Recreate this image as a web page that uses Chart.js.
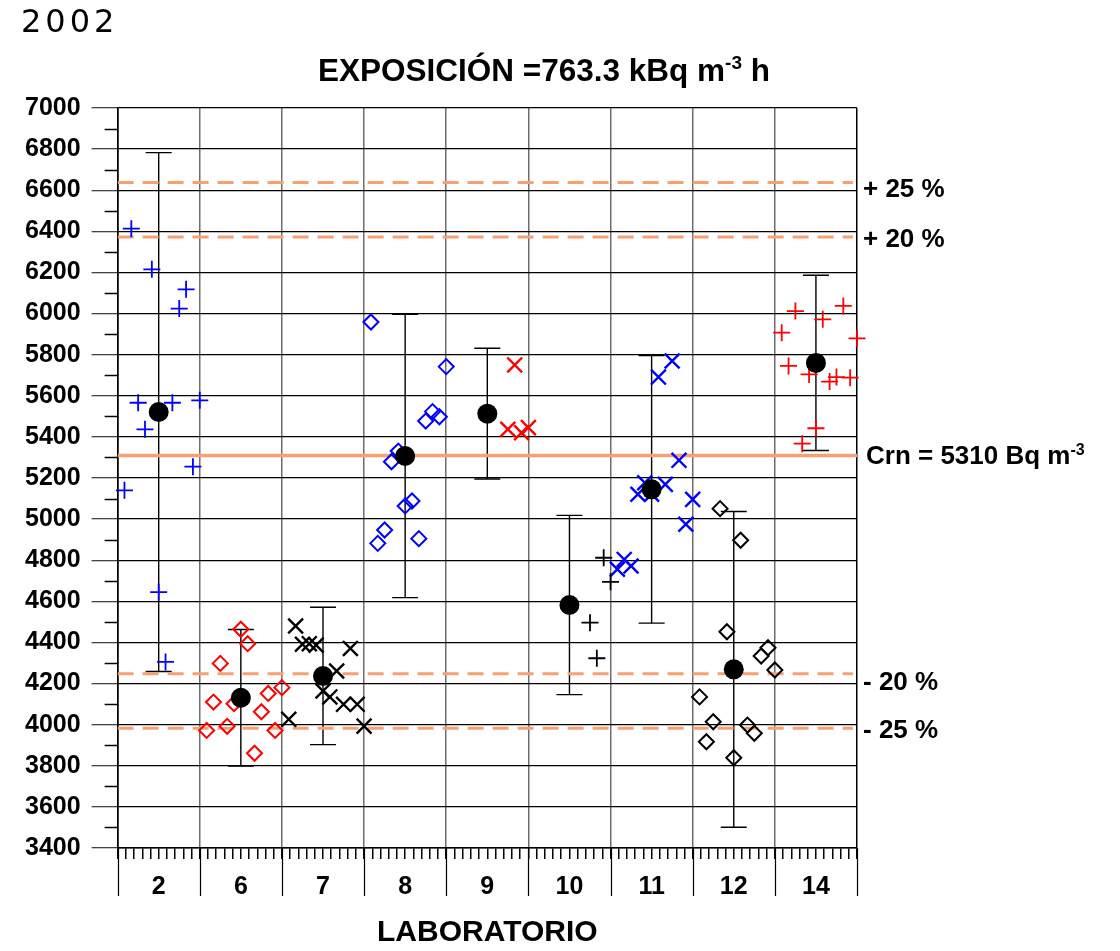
<!DOCTYPE html>
<html lang="es">
<head>
<meta charset="UTF-8">
<title>Exposición 2002</title>
<script src="https://cdn.jsdelivr.net/npm/chart.js"></script>
<style>
  html, body { margin: 0; padding: 0; background: #fff; }
</style>
</head>
<body>
<canvas id="expoChart" width="1120" height="951"></canvas>
<script>
// laboratories, one column each
var labs = ['2', '6', '7', '8', '9', '10', '11', '12', '14'];

// results of each lab, in sample order (sample k sits at lab + k/12)
var lab2  = [5140, 6413, 5566, 5437, 6215, 4645, 4305, 5566, 6024, 6118, 5255, 5578];
var lab6  = [3972, 4110, 4298, 3992, 4102, 4464, 4394, 3861, 4063, 4152, 3972, 4180];
var lab7  = [4026, 4480, 4391, 4394, 4387, 4164, 4135, 4261, 4099, 4371, 4099, 3993];
var lab8  = [5959, 4882, 4947, 5279, 5331, 5064, 5088, 4905, 5477, 5523, 5498, 5742];
var lab9  = [5437, 5750, 5420, 5445];
var lab10 = [4496, 4323, 4812, 4695];
var lab11 = [4756, 4804, 4772, 5121, 5177, 5121, 5691, 5169, 5769, 5286, 4975, 5096];
var lab12 = [4135, 3917, 4014, 5051, 4452, 3839, 4897, 3998, 3958, 4334, 4374, 4266];
var lab14 = [5907, 5745, 6012, 5367, 5704, 5442, 5972, 5669, 5691, 6037, 5688, 5879];
var firstSample = [1, 1, 1, 1, 9, 9, 1, 1, 1];

// lab mean and half length of its error bar
var labMean = [5521, 4131, 4237, 5307, 5513, 4582, 5145, 4269, 5760];
var labErr  = [1262, 332, 334, 689, 318, 436, 651, 768, 426];

// reference concentration and limits (Bq m-3)
var crn = 5310;
var limitPct = [25, 20, -20, -25];
var limitLabels = ['+ 25 %', '+ 20 %', '- 20 %', '- 25 %'];

var labValues = [lab2, lab6, lab7, lab8, lab9, lab10, lab11, lab12, lab14];

// marker look per lab
var BLUE = '#0000ff', RED = '#ff0000', BLACK = '#000000';
var labShape = ['cross', 'rectRot', 'crossRot', 'rectRot', 'crossRot', 'cross', 'crossRot', 'rectRot', 'cross'];
var labColor = [BLUE, RED, BLACK, BLUE, RED, BLACK, BLUE, BLACK, RED];
var shapeRadius = { cross: 8.5, rectRot: 7.5, crossRot: 10.5 };
var shapeWidth = { cross: 1.8, rectRot: 2, crossRot: 2.4 };

// small vertical nudge of each limit label (px)
var labelNudge = [5, 1, 7, 1];

var ORANGE = '#f9a072';
var FONT = '"Liberation Sans", Arial, sans-serif';

var datasets = [];

labValues.forEach(function(vals, i) {
  var shape = labShape[i];
  datasets.push({
    label: 'Laboratorio ' + labs[i],
    data: vals.map(function(v, k) {
      return { x: i + (firstSample[i] + k) / 12, y: v };
    }),
    pointStyle: shape,
    pointRadius: shapeRadius[shape],
    pointBorderWidth: shapeWidth[shape],
    borderColor: labColor[i],
    backgroundColor: 'rgba(0,0,0,0)',
    showLine: false,
    clip: false,
    order: 2
  });
});

// means
datasets.push({
  label: 'Media',
  data: labMean.map(function(m, i) { return { x: i + 0.5, y: m }; }),
  pointStyle: 'circle',
  pointRadius: 10,
  pointBorderWidth: 0,
  backgroundColor: BLACK,
  borderColor: BLACK,
  showLine: false,
  order: 1
});

// reference line and limits
datasets.push({
  label: 'Crn',
  data: [{ x: 0, y: crn }, { x: labs.length, y: crn }],
  showLine: true,
  borderColor: ORANGE,
  borderWidth: 3.5,
  pointRadius: 0,
  order: 5
});
limitPct.forEach(function(p) {
  var v = crn * (1 + p / 100);
  datasets.push({
    label: p + ' %',
    data: [{ x: 0, y: v }, { x: labs.length - 0.05, y: v }],
    showLine: true,
    borderColor: ORANGE,
    borderWidth: 3,
    borderDash: [16, 9],
    pointRadius: 0,
    order: 5
  });
});

function isInt(v) { return Math.abs(v - Math.round(v)) < 1e-6; }

// text with a raised part, parts = [[text, raised], ...]
function drawParts(ctx, parts, x, y, size, align) {
  var small = Math.round(size * 0.6);
  var total = 0;
  parts.forEach(function(p) {
    ctx.font = 'bold ' + (p[1] ? small : size) + 'px ' + FONT;
    total += ctx.measureText(p[0]).width;
  });
  var cx = align === 'center' ? x - total / 2 : x;
  ctx.textAlign = 'left';
  ctx.textBaseline = 'alphabetic';
  parts.forEach(function(p) {
    ctx.font = 'bold ' + (p[1] ? small : size) + 'px ' + FONT;
    ctx.fillText(p[0], cx, p[1] ? y - size * 0.38 : y);
    cx += ctx.measureText(p[0]).width;
  });
}

var decorPlugin = {
  id: 'decor',
  beforeDatasetsDraw: function(chart) {
    var ctx = chart.ctx, xs = chart.scales.x, ys = chart.scales.y, a = chart.chartArea;
    ctx.save();
    ctx.strokeStyle = BLACK;
    // minor y ticks
    ctx.lineWidth = 1.5;
    for (var v = 3500; v < 7000; v += 200) {
      var py = Math.round(ys.getPixelForValue(v)) + 0.5;
      ctx.beginPath();
      ctx.moveTo(a.left - 13, py);
      ctx.lineTo(a.left, py);
      ctx.stroke();
    }
    // long ticks at lab boundaries
    ctx.lineWidth = 1.2;
    for (var i = 0; i <= labs.length; i++) {
      var px = Math.round(xs.getPixelForValue(i)) + 0.5;
      ctx.beginPath();
      ctx.moveTo(px, a.bottom);
      ctx.lineTo(px, a.bottom + 48);
      ctx.stroke();
    }
    // error bars
    ctx.lineWidth = 1.4;
    labMean.forEach(function(m, i) {
      var cx = xs.getPixelForValue(i + 0.5);
      var top = ys.getPixelForValue(m + labErr[i]);
      var bot = ys.getPixelForValue(m - labErr[i]);
      ctx.beginPath();
      ctx.moveTo(cx, top);
      ctx.lineTo(cx, bot);
      ctx.moveTo(cx - 13, top);
      ctx.lineTo(cx + 13, top);
      ctx.moveTo(cx - 13, bot);
      ctx.lineTo(cx + 13, bot);
      ctx.stroke();
    });
    ctx.restore();
  },
  afterDraw: function(chart) {
    var ctx = chart.ctx, ys = chart.scales.y, a = chart.chartArea;
    ctx.save();
    ctx.fillStyle = BLACK;

    // year
    ctx.font = '32px "DejaVu Sans", sans-serif';
    ctx.letterSpacing = '4px';
    ctx.textAlign = 'left';
    ctx.textBaseline = 'alphabetic';
    ctx.fillText('2002', 21, 32);
    ctx.letterSpacing = '0px';

    // title
    drawParts(ctx, [['EXPOSICIÓN =763.3 kBq m', false], ['-3', true], [' h', false]], 544, 81, 31.5, 'center');

    // limit labels on the right
    limitPct.forEach(function(p, i) {
      var py = ys.getPixelForValue(crn * (1 + p / 100));
      drawParts(ctx, [[limitLabels[i], false]], a.right + 6, py + labelNudge[i] + 9, 26, 'left');
    });
    var pc = ys.getPixelForValue(crn);
    drawParts(ctx, [['Crn = 5310 Bq m', false], ['-3', true]], a.right + 9, pc + 9, 26, 'left');
    ctx.restore();
  }
};

new Chart(document.getElementById('expoChart').getContext('2d'), {
  type: 'scatter',
  data: { datasets: datasets },
  options: {
    responsive: false,
    animation: false,
    devicePixelRatio: 1,
    events: [],
    layout: { padding: { left: 14, right: 263, top: 108, bottom: 0 } },
    plugins: {
      legend: { display: false },
      tooltip: { enabled: false }
    },
    scales: {
      x: {
        type: 'linear',
        min: 0,
        max: labs.length,
        border: { display: true, color: BLACK, width: 1.5 },
        grid: {
          color: function(c) {
            var v = c.tick.value;
            if (!isInt(v)) return 'rgba(0,0,0,0)';
            return (v === 0 || v === labs.length) ? BLACK : '#6e6e6e';
          },
          tickColor: BLACK,
          lineWidth: 1.5,
          tickLength: 11
        },
        ticks: {
          stepSize: 0.1,
          autoSkip: false,
          maxTicksLimit: 200,
          maxRotation: 0,
          minRotation: 0,
          padding: 13,
          color: BLACK,
          font: { family: FONT, weight: 'bold', size: 25 },
          callback: function(v) {
            var t = Math.round(v * 10);
            return t % 10 === 5 ? labs[(t - 5) / 10] : '';
          }
        },
        title: {
          display: true,
          text: 'LABORATORIO',
          color: BLACK,
          font: { family: FONT, weight: 'bold', size: 30 },
          padding: { top: 0, bottom: 0 }
        }
      },
      y: {
        min: 3400,
        max: 7000,
        border: { display: true, color: BLACK, width: 1.5 },
        grid: {
          color: function(c) { return c.tick.value % 200 === 0 ? BLACK : 'rgba(0,0,0,0)'; },
          tickColor: function(c) { return c.tick.value % 200 === 0 ? '#444' : 'rgba(0,0,0,0)'; },
          lineWidth: 1.3,
          tickLength: 26
        },
        ticks: {
          stepSize: 100,
          autoSkip: false,
          maxTicksLimit: 100,
          padding: 11,
          color: BLACK,
          font: { family: FONT, weight: 'bold', size: 25 },
          callback: function(v) { return v % 200 === 0 ? String(v) : ''; }
        }
      }
    }
  },
  plugins: [decorPlugin]
});
</script>
</body>
</html>
